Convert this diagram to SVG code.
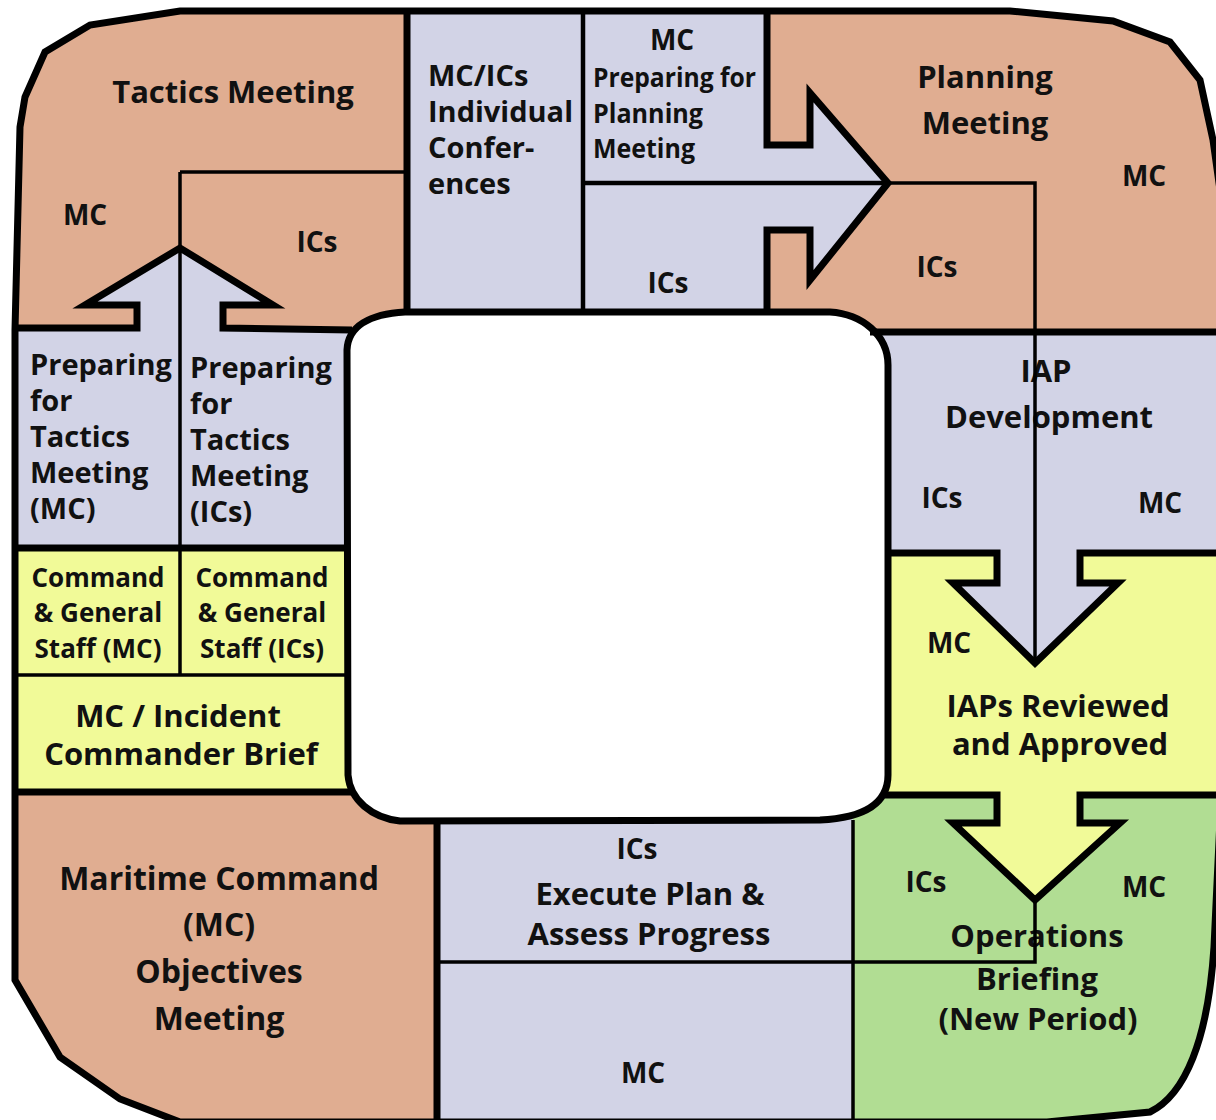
<svg xmlns="http://www.w3.org/2000/svg" width="1216" height="1120" viewBox="0 0 1216 1120">
<style>
.t{font-family:"Open Sans","Liberation Sans",sans-serif;font-weight:700;fill:#111;}
.c{text-anchor:middle;}
.s32{font-size:32px;}
.s31{font-size:31px;}
.s29{font-size:29px;}
.s28{font-size:28px;}
.s26{font-size:26px;}
.sal{fill:#E0AD91;}
.lav{fill:#D2D3E6;}
.yel{fill:#F1FA98;}
.grn{fill:#B1DD93;}
.thick{fill:none;stroke:#000;stroke-width:7;stroke-linejoin:miter;}
.med{fill:none;stroke:#000;stroke-width:4.5;}
.thin{fill:none;stroke:#000;stroke-width:3.5;}
</style>
<defs>
<path id="outer" d="M180,11 L1010,11 L1113,21 L1170,42 L1200,80 L1213,140 L1220,190 L1220,820 L1214,947 C1208,1040 1185,1095 1150,1112 L1047,1122 L180,1122 L120,1099 L60,1057 L15,980 L15,330 L20,127 L25,97 L45,52 L90,25 Z"/>
<clipPath id="clipOuter"><use href="#outer"/></clipPath>
</defs>
<rect width="1216" height="1120" fill="#fff"/>
<g clip-path="url(#clipOuter)">
<use href="#outer" class="sal"/>
<g id="tactics-meeting">
<path class="sal" d="M0,0 L407,0 L407,330 L223,330 L223,305 L273,305 L180,248 L85,305 L137,305 L137,330 L0,330 Z"/>
<text class="t c s31" x="233" y="103">Tactics Meeting</text>
<text class="t c s28" x="85" y="225">MC</text>
<text class="t c s28" x="317" y="252">ICs</text>
</g>
<g id="preparing-tactics">
<path class="lav" d="M0,328 L137,328 L137,305 L85,305 L180,248 L273,305 L223,305 L223,328 L360,328 L360,548 L0,548 Z"/>
<text class="t s29" x="30" y="375">Preparing</text>
<text class="t s29" x="30" y="411">for</text>
<text class="t s29" x="30" y="447">Tactics</text>
<text class="t s29" x="30" y="483">Meeting</text>
<text class="t s29" x="30" y="519">(MC)</text>
<text class="t s29" x="190" y="378">Preparing</text>
<text class="t s29" x="190" y="414">for</text>
<text class="t s29" x="190" y="450">Tactics</text>
<text class="t s29" x="190" y="486">Meeting</text>
<text class="t s29" x="190" y="522">(ICs)</text>
</g>
<g id="command-general-staff">
<rect class="yel" x="0" y="548" width="360" height="127"/>
<text class="t c s26" x="98" y="587">Command</text>
<text class="t c s26" x="98" y="622">&amp; General</text>
<text class="t c s26" x="98" y="658">Staff (MC)</text>
<text class="t c s26" x="262" y="587">Command</text>
<text class="t c s26" x="262" y="622">&amp; General</text>
<text class="t c s26" x="262" y="658">Staff (ICs)</text>
</g>
<g id="incident-commander-brief">
<rect class="yel" x="0" y="675" width="360" height="117"/>
<text class="t c s31" x="178" y="727">MC / Incident</text>
<text class="t c s31" x="181" y="765">Commander Brief</text>
</g>
<g id="objectives-meeting">
<rect class="sal" x="0" y="792" width="437" height="340"/>
<text class="t c s32" x="219" y="890">Maritime Command</text>
<text class="t c s32" x="219" y="936">(MC)</text>
<text class="t c s32" x="219" y="983">Objectives</text>
<text class="t c s32" x="219" y="1030">Meeting</text>
</g>
<g id="individual-conferences">
<rect class="lav" x="407" y="0" width="176" height="320"/>
<text class="t s29" x="428" y="86">MC/ICs</text>
<text class="t s29" x="428" y="122">Individual</text>
<text class="t s29" x="428" y="158">Confer-</text>
<text class="t s29" x="428" y="194">ences</text>
</g>
<g id="preparing-planning">
<path class="lav" d="M583,0 L767,0 L767,145 L810,145 L810,93 L888,183 L810,280 L810,230 L767,230 L767,320 L583,320 Z"/>
<text class="t c s28" x="672" y="50">MC</text>
<text class="t s26" x="593" y="87" textLength="163" lengthAdjust="spacingAndGlyphs">Preparing for</text>
<text class="t s26" x="593" y="123" textLength="110" lengthAdjust="spacingAndGlyphs">Planning</text>
<text class="t s26" x="593" y="158" textLength="102" lengthAdjust="spacingAndGlyphs">Meeting</text>
<text class="t c s28" x="668" y="293">ICs</text>
</g>
<g id="planning-meeting">
<path class="sal" d="M767,0 L1230,0 L1230,332 L767,332 L767,230 L810,230 L810,280 L888,183 L810,93 L810,145 L767,145 Z"/>
<text class="t c s31" x="985" y="88">Planning</text>
<text class="t c s31" x="985" y="134">Meeting</text>
<text class="t c s28" x="1144" y="186">MC</text>
<text class="t c s28" x="937" y="277">ICs</text>
</g>
<g id="iap-development">
<path class="lav" d="M860,332 L1230,332 L1230,553 L1080,553 L1080,583 L1118,583 L1035,663 L953,583 L997,583 L997,553 L860,553 Z"/>
<text class="t c s31" x="1046" y="382">IAP</text>
<text class="t c s31" x="1049" y="428">Development</text>
<text class="t c s28" x="942" y="508">ICs</text>
<text class="t c s28" x="1160" y="513">MC</text>
</g>
<g id="iaps-reviewed">
<path class="yel" d="M860,553 L997,553 L997,583 L953,583 L1035,663 L1118,583 L1080,583 L1080,553 L1230,553 L1230,795 L1080,795 L1080,823 L1120,823 L1035,900 L953,823 L997,823 L997,795 L860,795 Z"/>
<text class="t c s28" x="949" y="653">MC</text>
<text class="t c s31" x="1058" y="717">IAPs Reviewed</text>
<text class="t c s31" x="1060" y="755">and Approved</text>
</g>
<g id="operations-briefing">
<path class="grn" d="M853,795 L997,795 L997,823 L953,823 L1035,900 L1120,823 L1080,823 L1080,795 L1230,795 L1230,1130 L853,1130 Z"/>
<text class="t c s28" x="926" y="892">ICs</text>
<text class="t c s28" x="1144" y="897">MC</text>
<text class="t c s31" x="1037" y="947">Operations</text>
<text class="t c s31" x="1037" y="990">Briefing</text>
<text class="t c s31" x="1038" y="1030">(New Period)</text>
</g>
<g id="execute-plan">
<rect class="lav" x="437" y="818" width="416" height="312"/>
<text class="t c s28" x="637" y="859">ICs</text>
<text class="t c s31" x="650" y="905">Execute Plan &amp;</text>
<text class="t c s31" x="649" y="945">Assess Progress</text>
<text class="t c s28" x="643" y="1083">MC</text>
</g>
</g>
<g id="center">
<path d="M405,312 L830,312 C862,314 888,335 888,365 L888,775 C888,805 862,818 820,820 L400,821 C372,818 350,800 348,775 L347,350 C348,326 370,314 405,312 Z" fill="#fff" stroke="#000" stroke-width="7"/>
</g>
<g id="connectors">
<path class="thin" d="M180,172 L407,172 M180,172 L180,675 M15,675 L347,675 M888,183 L1035,183 L1035,663 M853,820 L853,1122 M437,962 L1035,962 L1035,900"/>
<path class="med" d="M583,11 L583,312 M583,183 L888,183"/>
<path class="thick" d="M407,11 L407,312"/>
<path class="thick" d="M15,328 L137,328 L137,305 L85,305 L180,248 L273,305 L223,305 L223,328 L352,330"/>
<path class="thick" d="M767,11 L767,145 L810,145 L810,93 L888,183 L810,280 L810,230 L767,230 L767,312"/>
<path class="thick" d="M870,332 L1220,332"/>
<path class="thick" d="M888,553 L997,553 L997,583 L953,583 L1035,663 L1118,583 L1080,583 L1080,553 L1220,553"/>
<path class="thick" d="M885,795 L997,795 L997,823 L953,823 L1035,900 L1120,823 L1080,823 L1080,795 L1220,795"/>
<path class="thick" d="M15,548 L347,548 M15,792 L352,792 M437,820 L437,1122"/>
<use href="#outer" class="thick"/>
</g>
</svg>
